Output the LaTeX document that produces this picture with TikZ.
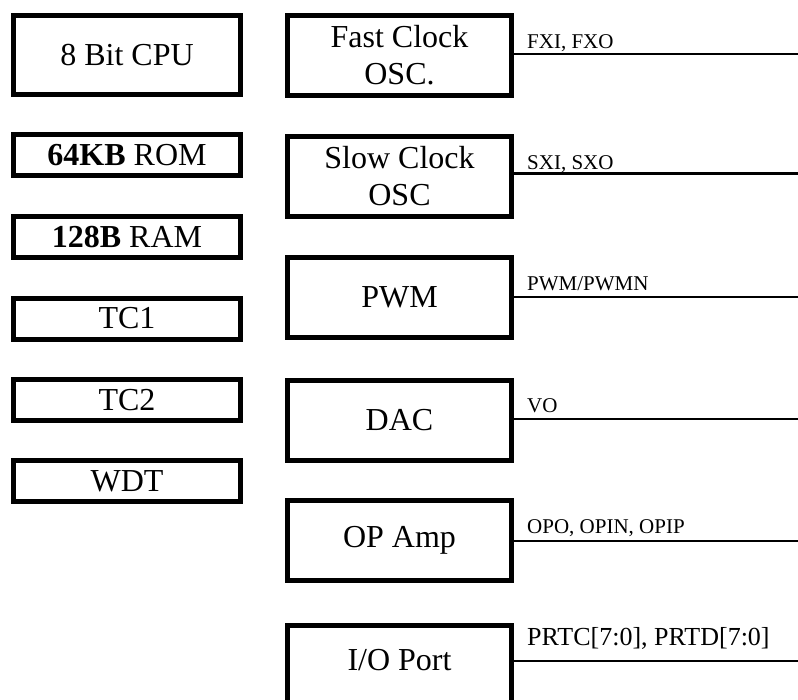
\documentclass[tikz,border=0pt]{standalone}
\usepackage{fontspec}
\setmainfont{Liberation Serif}
\begin{document}
\begin{tikzpicture}[x=1pt,y=-1pt,
  block/.style={draw=black,line width=5pt,inner sep=0pt,align=center,
    font=\fontsize{32}{36.5}\selectfont},
  leftblk/.style={block,minimum width=227pt},
  rightblk/.style={block,minimum width=224pt,minimum height=80pt},
  small/.style={leftblk,minimum height=41pt},
  pin/.style={line width=2.5pt},
  pinlabel/.style={anchor=base west,inner sep=0pt,font=\fontsize{21}{24}\selectfont}]
\useasboundingbox (0,0) rectangle (798,699);

% left column: core blocks
\node[leftblk,minimum height=79pt] (cpu) at (127,55) {8 Bit CPU};
\node[small] (rom) at (127,155) {\textbf{64KB} ROM};
\node[small] (ram) at (127,237) {\textbf{128B} RAM};
\node[small] (tc1) at (127,318.5) {TC1};
\node[small] (tc2) at (127,400) {TC2};
\node[small] (wdt) at (127,481) {WDT};

% right column: peripherals with external pins
\node[rightblk] (fosc) at (399.5,55) {Fast Clock\\OSC.};
\node[rightblk] (sosc) at (399.5,176) {Slow Clock\\OSC};
\node[rightblk] (pwm) at (399.5,297.5) {PWM};
\node[rightblk] (dac) at (399.5,420.5) {DAC};
\node[rightblk] (opamp) at (399.5,540.5) {OP Amp};
\node[rightblk] (io) at (399.5,665.5) {};
\node[font=\fontsize{32}{36.5}\selectfont,inner sep=0pt] (iolabel) at (399.5,660) {I/O Port};

% pin lines leaving each peripheral
\coordinate (pf) at (800,54);
\coordinate (ps) at (800,173.5);
\coordinate (pp) at (800,297);
\coordinate (pd) at (800,419);
\coordinate (po) at (800,541);
\coordinate (pi) at (800,661);
\draw[pin] (fosc.east |- pf) -- (pf);
\draw[pin] (sosc.east |- ps) -- (ps);
\draw[pin] (pwm.east |- pp) -- (pp);
\draw[pin] (dac.east |- pd) -- (pd);
\draw[pin] (opamp.east |- po) -- (po);
\draw[pin] (io.east |- pi) -- (pi);

% pin names
\node[pinlabel] (lf) at (527,48) {FXI, FXO};
\node[pinlabel] (ls) at (527,169) {SXI, SXO};
\node[pinlabel] (lp) at (527,290) {PWM/PWMN};
\node[pinlabel] (ld) at (527,412) {VO};
\node[pinlabel] (lo) at (527,533) {OPO, OPIN, OPIP};
\node[pinlabel,font=\fontsize{26}{30}\selectfont] (li) at (527,645) {PRTC[7:0], PRTD[7:0]};
\end{tikzpicture}
\end{document}
